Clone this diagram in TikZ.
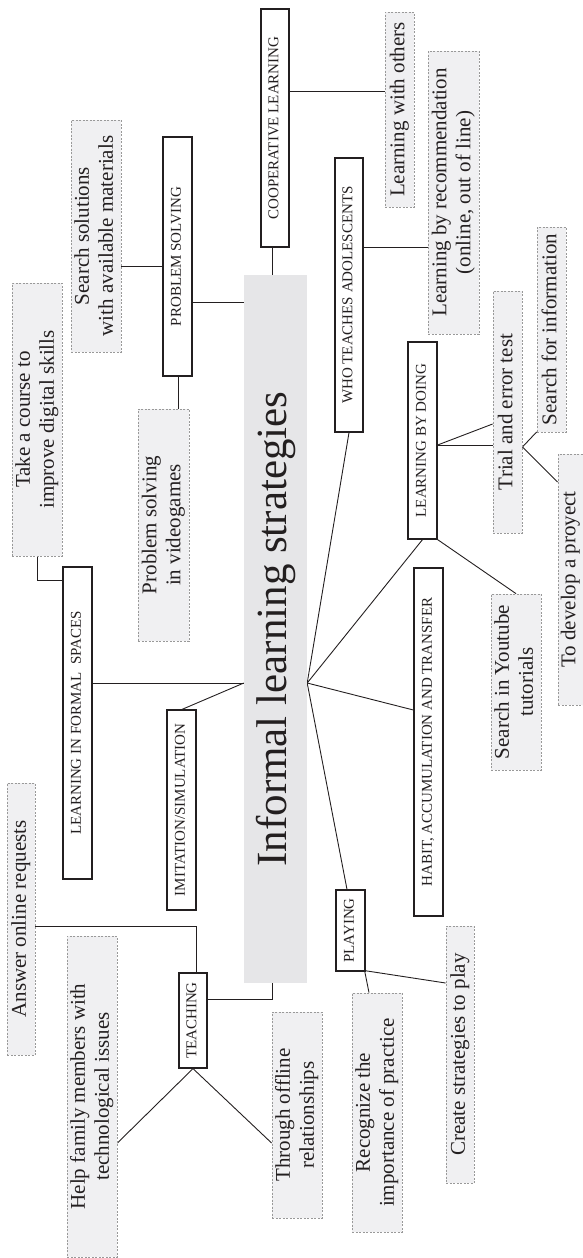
\documentclass[tikz,border=0pt]{standalone}
\usepackage{fontspec}
\setmainfont{Liberation Serif}
\usepackage{graphicx}
\usetikzlibrary{backgrounds,calc}
\definecolor{itemfill}{HTML}{F0F0F2}
\definecolor{itemdraw}{HTML}{999999}
\definecolor{centerfill}{HTML}{E6E6E8}
\definecolor{ink}{HTML}{231F20}
\newcommand{\rt}[1]{\rotatebox{90}{\begin{tabular}{@{}c@{}}#1\end{tabular}}}
\tikzset{
  cat/.style={draw=ink, line width=1.2pt, fill=white, inner sep=0pt, text=ink,
    font=\fontsize{15}{17}\selectfont},
  item/.style={draw=itemdraw, dash pattern=on 2pt off 1.5pt, line width=0.8pt,
    fill=itemfill, inner sep=0pt, text=ink, font=\fontsize{21}{24}\selectfont},
  hub/.style={fill=centerfill, inner sep=0pt, text=ink, font=\fontsize{43}{50}\selectfont},
  conn/.style={draw=ink, line width=0.9pt}
}
\begin{document}
\begin{tikzpicture}[x=1pt,y=-1pt]
\useasboundingbox (0,0) rectangle (583,1258);
% central
\node[hub, minimum width=63, minimum height=708] (center) at (275.5,629) {\rotatebox{90}{Informal learning strategies}};
% categories
\node[cat, minimum width=28, minimum height=238] (coop) at (275,128) {\rt{COOPERATIVE LEARNING}};
\node[cat, minimum width=29, minimum height=239] (ps) at (177.5,256.5) {\rt{PROBLEM SOLVING}};
\node[cat, minimum width=28, minimum height=274] (wta) at (349,295) {\rt{WHO TEACHES ADOLESCENTS}};
\node[cat, minimum width=29, minimum height=197] (lbd) at (422.5,440.5) {\rt{LEARNING BY DOING}};
\node[cat, minimum width=29, minimum height=312] (lifs) at (77.5,723) {\rt{LEARNING IN FORMAL\ \ SPACES}};
\node[cat, minimum width=29, minimum height=200] (imit) at (181.5,810) {\rt{IMITATION/SIMULATION}};
\node[cat, minimum width=29, minimum height=348] (habit) at (428.5,742) {\rt{HABIT, ACCUMULATION AND TRANSFER}};
\node[cat, minimum width=28, minimum height=95] (teach) at (193,1020.5) {\rt{TEACHING}};
\node[cat, minimum width=29, minimum height=81] (play) at (350.5,930.5) {\rt{PLAYING}};
% items
\node[item, minimum width=29, minimum height=195] (lwo) at (399.5,109.5) {\rt{Learning with others}};
\node[item, minimum width=51, minimum height=283] (lbr) at (453.5,192.5) {\rt{Learning by recommendation\\(online, out of line)}};
\node[item, minimum width=50, minimum height=232] (ssol) at (96,236) {\rt{Search solutions\\with available materials}};
\node[item, minimum width=50, minimum height=273] (tac) at (37,419.5) {\rt{Take a course to\\improve digital skills}};
\node[item, minimum width=51, minimum height=232] (psv) at (163.5,525) {\rt{Problem solving\\in videogames}};
\node[item, minimum width=29, minimum height=242] (trial) at (507.5,412) {\rt{Trial and error test}};
\node[item, minimum width=29, minimum height=205] (sfi) at (551.5,329.5) {\rt{Search for information}};
\node[item, minimum width=25, minimum height=251] (tdp) at (570.5,579.5) {\rt{To develop a proyect}};
\node[item, minimum width=50, minimum height=176] (syt) at (516,682) {\rt{Search in Youtube\\tutorials}};
\node[item, minimum width=28, minimum height=272] (aor) at (21,919) {\rt{Answer online requests}};
\node[item, minimum width=50, minimum height=321] (hfm) at (92,1096.5) {\rt{Help family members with\\technological issues}};
\node[item, minimum width=50, minimum height=206] (tor) at (297,1115) {\rt{Through offline\\relationships}};
\node[item, minimum width=50, minimum height=239] (rec) at (377,1112.5) {\rt{Recognize the\\importance of practice}};
\node[item, minimum width=28, minimum height=257] (csp) at (460,1054.5) {\rt{Create strategies to play}};
% hubs
\coordinate (hubL) at ($(center.west)+(0,54)$);
\coordinate (hubR) at ($(center.east)+(0,54)$);
\begin{pgfonlayer}{background}
\draw[conn] ($(coop.south)+(-3,0)$) -- ($(center.north)+(-3.5,0)$);
\draw[conn] ($(coop.east)+(0,-37)$) -- ($(lwo.west)+(0,-18.5)$);
\draw[conn] ($(ps.east)+(0,45.5)$) -- ($(center.west)+(0,-327)$);
\draw[conn] ($(ps.west)+(0,9.5)$) -- ($(ssol.east)+(0,30)$);
\draw[conn] ($(ps.south)+(0.5,0)$) -- ($(psv.north)+(14.5,0)$);
\draw[conn] (tac.south) |- ($(lifs.west)+(0,-143)$);
\draw[conn] ($(lifs.east)+(0,-40)$) -- (hubL);
\draw[conn] (hubL) -- ($(imit.north)+(0.5,0)$);
\draw[conn] (hubR) -- (wta.south);
\draw[conn] (hubR) -- (lbd.south);
\draw[conn] (hubR) -- ($(habit.west)+(0,-32)$);
\draw[conn] (hubR) -- ($(play.north)+(-3.5,0)$);
\draw[conn] ($(wta.east)+(0,-48)$) -- ($(lbr.west)+(0,54.5)$);
\draw[conn] ($(lbd.east)+(0,4.5)$) -- ($(trial.west)+(0,33)$);
\draw[conn] ($(lbd.east)+(0,4.5)$) -- ($(trial.west)+(0,12)$);
\draw[conn] ($(trial.east)+(0,35)$) -- ($(sfi.west)+(0,102.5)$);
\draw[conn] ($(trial.east)+(0,35)$) -- ($(tdp.west)+(0,-97.5)$);
\draw[conn] (lbd.south east) -- (syt.north);
\draw[conn] ($(teach.east)+(0,-21.5)$) -| ($(center.south)+(-3.5,0)$);
\draw[conn] ($(teach.north)+(3,0)$) |- ($(aor.east)+(0,7)$);
\draw[conn] (teach.south) -- ($(hfm.east)+(0,46.5)$);
\draw[conn] (teach.south) -- ($(tor.west)+(0,28)$);
\draw[conn] ($(play.south east)+(-1,-1)$) -- ($(rec.north)+(-8,0)$);
\draw[conn] ($(play.south east)+(-1,-1)$) -- ($(csp.west)+(0,-71.5)$);
\end{pgfonlayer}
\end{tikzpicture}
\end{document}
